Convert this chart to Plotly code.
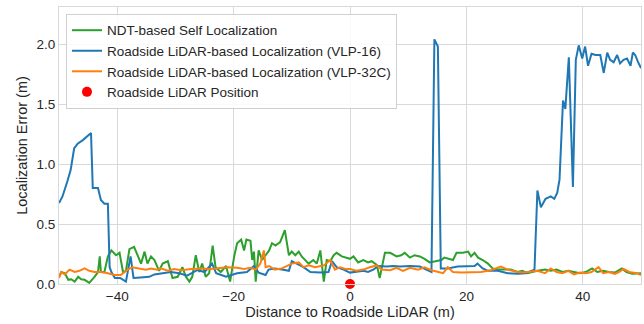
import plotly.graph_objects as go

# NDT-based Self Localization (green)
ndt_x = [-50, -49.6, -49, -48.4, -47.9, -47.3, -46.7, -46.2, -45.6, -44.8, -43.9, -43.3, -43, -42.8, -42.2,
         -41.6, -41, -40.2, -39.6, -39, -38.5, -37.9, -37.1, -36.5, -35.9, -35.3, -34.8, -34.2, -33.6,
         -32.8, -32.2, -31.3, -30.5, -29.6, -28.8, -28.2, -27.6, -27.1, -26.5, -25.9, -25.4, -24.8, -24.2,
         -23.6, -23.1, -22.2, -21.3, -20.6, -19.9, -19.4, -18.7, -18.2, -17.8, -17.1, -16.8, -16.5, -16.2,
         -15.7, -15.1, -14.5, -13.9, -13.4, -12.8, -12, -11.2, -10.5, -10, -9.4, -8.8, -8.3, -7.7, -7.1,
         -6.3, -5.7, -5.1, -4.5, -4, -3.4, -2.8, -2.3, -1.4, -0.8, 0, 0.6, 1.4, 2.3, 3.1, 3.7, 4.6, 5.1,
         5.6, 6, 6.9, 8, 8.8, 9.4, 10.3, 11.1, 12, 12.8, 13.7, 14.3, 15.1, 15.7, 16.2, 17.1, 17.7, 18.3,
         19.4, 20.3, 20.8, 21.4, 22, 22.8, 23.7, 24.5, 25.4, 26.5, 27.6, 28.8, 29.6, 30.5, 31.3, 32.2,
         33.5, 34.5, 35.5, 36.5, 37.5, 38.5, 39.5, 40.5, 41.6, 42.5, 43.5, 44.5, 45.5, 46.7, 47.5, 48.5,
         49.5, 50]
ndt_err = [0.06, 0.1, 0.09, 0.035, 0.04, 0.02, 0.06, 0.04, 0.035, 0.01, 0.06, 0.1, 0.23, 0.1, 0.1,
           0.23, 0.28, 0.24, 0.26, 0.1, 0.11, 0.29, 0.31, 0.24, 0.17, 0.27, 0.17, 0.23, 0.2,
           0.11, 0.17, 0.19, 0.05, 0.06, 0.14, 0.06, 0.02, 0.06, 0.24, 0.1, 0.17, 0.06, 0.09,
           0.32, 0.14, 0.1, 0.15, 0.02, 0.23, 0.34, 0.37, 0.28, 0.37, 0.36, 0.2, 0.27, 0.02,
           0.28, 0.2, 0.24, 0.28, 0.34, 0.32, 0.35, 0.45, 0.24, 0.27, 0.24, 0.27, 0.23, 0.2, 0.17,
           0.2, 0.17, 0.28, 0.02, 0.2, 0.19, 0.24, 0.26, 0.23, 0.22, 0.21, 0.23, 0.18, 0.2, 0.18, 0.19, 0.16, 0.05,
           0.18, 0.26, 0.26, 0.23, 0.24, 0.26, 0.22, 0.24, 0.23, 0.21, 0.18, 0.185, 0.19, 0.2, 0.22, 0.21, 0.2, 0.26,
           0.26, 0.27, 0.23, 0.26, 0.22, 0.2, 0.17, 0.13, 0.12, 0.12, 0.12, 0.1, 0.11, 0.09, 0.1, 0.11,
           0.12, 0.11, 0.12, 0.1, 0.11, 0.1, 0.09, 0.1, 0.13, 0.1, 0.11, 0.1, 0.095, 0.13, 0.1, 0.085,
           0.09, 0.09]

# Roadside LiDAR-based Localization (VLP-16) (blue)
vlp16_x = [-50, -49.4, -48.6, -48.0, -47.4, -46.8, -45.9, -45.4, -44.5, -44.2, -43.3, -42.8, -42.2, -41.6,
           -41.3, -41.0, -40.4, -39.5, -38.5, -37.7, -37.2, -36.0, -34.5, -33.6, -32.2, -30.8, -29.3, -28,
           -26.2, -25, -23.7, -23, -21.3, -19.4, -17.7, -16.5, -15.7, -14.5, -14, -12.9, -11.7, -10.5, -10,
           -8.8, -8, -6.8, -5.1, -3.7, -3.1, -2.3, -1.1, 0, 1.1, 2.3, 3.1, 4, 4.9, 6.3, 7.4, 8.6, 10.3, 12,
           13.1, 14, 14.5, 15.1, 15.6, 16.8, 18.5, 20.2, 21.4, 21.9, 22.8, 23.7, 25.4, 27.1, 28.8, 30.2, 31.1,
           31.7, 32.2, 32.8, 33.6, 34.5, 35.1, 35.6, 36.0, 36.6, 37.0, 37.6, 38.3, 38.8, 39.3, 39.9, 40.4,
           40.9, 41.5, 42.2, 43.0, 43.6, 44.2, 44.7, 45.3, 45.9, 46.4, 47.0, 47.6, 48.2, 48.6, 49.0, 49.5, 50]
vlp16_err = [0.675, 0.73, 0.85, 0.95, 1.13, 1.17, 1.2, 1.22, 1.26, 0.8, 0.8, 0.7, 0.67, 0.67,
             0.14, 0.1, 0.05, 0.05, 0.02, 0.23, 0.05, 0.055, 0.06, 0.08, 0.09, 0.1, 0.09, 0.07,
             0.117, 0.1, 0.17, 0.09, 0.06, 0.09, 0.1, 0.15, 0.095, 0.075, 0.12, 0.13, 0.12, 0.11, 0.19,
             0.16, 0.14, 0.1, 0.095, 0.1, 0.19, 0.14, 0.12, 0.095, 0.1, 0.11, 0.1, 0.12, 0.15, 0.145, 0.15, 0.145, 0.15, 0.145,
             0.12, 0.1, 2.04, 1.98, 0.13, 0.13, 0.145, 0.15, 0.15, 0.17, 0.13, 0.11, 0.11, 0.09, 0.085, 0.09, 0.11,
             0.12, 0.78, 0.64, 0.71, 0.73, 0.71, 0.76, 0.87, 1.53, 1.46, 1.89, 0.81, 1.87, 1.99, 1.88, 1.98,
             1.82, 1.92, 1.91, 1.91, 1.76, 1.93, 1.87, 1.85, 1.91, 1.84, 1.87, 1.88, 1.82, 1.93, 1.91, 1.85, 1.8]

# Roadside LiDAR-based Localization (VLP-32C) (orange)
vlp32_x = [-50, -49.6, -49, -48.2, -47.3, -46.5, -45.6, -44.8, -43.9, -42.8, -41.6, -40.5, -39.4, -38.2,
           -37.4, -36.2, -35.1, -34.2, -33.1, -32.5, -31.3, -30.2, -29, -27.3, -25.6, -23.9, -22.2, -21.1,
           -19.4, -18.2, -17.1, -16.2, -15.4, -14.8, -14.5, -13.9, -12.9, -11.7, -10, -8.8, -8, -7.1, -6,
           -4.5, -3.4, -2.6, -1.7, -0.8, 0, 1.1, 2.3, 3.4, 4.6, 5.4, 6.9, 8, 9.1, 10.3, 11.7, 12.8, 14,
           15.1, 16, 16.8, 17.7, 19.1, 20.8, 22.5, 24.2, 25.9, 27.1, 28.8, 29.9, 31.1, 32.2, 33.5, 34.5,
           35.5, 36.5, 37.5, 38.5, 39.5, 40.5, 41.5, 42.7, 43.5, 44.5, 45.5, 46.2, 47, 48, 49.3, 50]
vlp32_err = [0.05, 0.1, 0.08, 0.12, 0.1, 0.11, 0.13, 0.11, 0.1, 0.1, 0.09, 0.075, 0.075, 0.12,
             0.14, 0.13, 0.12, 0.13, 0.12, 0.13, 0.11, 0.125, 0.115, 0.125, 0.13, 0.125, 0.135, 0.14,
             0.135, 0.125, 0.135, 0.12, 0.17, 0.28, 0.14, 0.15, 0.12, 0.13, 0.17, 0.18, 0.14, 0.155, 0.14,
             0.155, 0.2, 0.12, 0.14, 0.125, 0.125, 0.11, 0.12, 0.14, 0.155, 0.12, 0.115, 0.135, 0.11, 0.135, 0.12, 0.14, 0.115,
             0.1, 0.09, 0.14, 0.1, 0.095, 0.1, 0.1, 0.115, 0.145, 0.12, 0.1, 0.095, 0.1, 0.11, 0.09, 0.13,
             0.1, 0.09, 0.11, 0.08, 0.095, 0.09, 0.1, 0.14, 0.09, 0.1, 0.085, 0.1, 0.125, 0.1, 0.09, 0.075]

lidar_x = [0]
lidar_y = [0]

x_ticks = [-40, -20, 0, 20, 40]
y_ticks = [0.0, 0.5, 1.0, 1.5, 2.0]

FONT = "Liberation Sans, Arial, sans-serif"

fig = go.Figure()
fig.add_trace(go.Scatter(x=ndt_x, y=ndt_err, mode="lines", name="NDT-based Self Localization",
                         line=dict(color="#2ca02c", width=2)))
fig.add_trace(go.Scatter(x=vlp16_x, y=vlp16_err, mode="lines", name="Roadside LiDAR-based Localization (VLP-16)",
                         line=dict(color="#1f77b4", width=2)))
fig.add_trace(go.Scatter(x=vlp32_x, y=vlp32_err, mode="lines", name="Roadside LiDAR-based Localization (VLP-32C)",
                         line=dict(color="#ff7f0e", width=2)))
fig.add_trace(go.Scatter(x=lidar_x, y=lidar_y, mode="markers", name="Roadside LiDAR Position",
                         marker=dict(color="red", size=10), cliponaxis=False))

axis_common = dict(showgrid=True, gridcolor="#d9d9d9", gridwidth=1, zeroline=False,
                   showline=True, linecolor="#d9d9d9", linewidth=1, mirror=True, ticks="",
                   tickfont=dict(family=FONT, size=13.5, color="#262626"),
                   title_font=dict(family=FONT, size=14.5, color="#262626"))

fig.update_layout(
    width=644, height=324,
    margin=dict(l=59, r=3, t=7, b=40),
    paper_bgcolor="white", plot_bgcolor="white",
    font=dict(family=FONT, size=13, color="#262626"),
    showlegend=True,
    legend=dict(x=0.012, y=0.975, xanchor="left", yanchor="top",
                bgcolor="rgba(255,255,255,0.85)", bordercolor="#d0d0d0", borderwidth=1,
                font=dict(family=FONT, size=13.5, color="#262626"),
                tracegroupgap=0, itemwidth=30),
    xaxis=dict(range=[-50, 50], tickvals=x_ticks, title=dict(text="Distance to Roadside LiDAR (m)", standoff=1),
               **axis_common),
    yaxis=dict(range=[0, 2.31], tickvals=y_ticks, tickformat=".1f",
               title=dict(text="Localization Error (m)", standoff=5), **axis_common),
)

fig.write_html("out.html")
